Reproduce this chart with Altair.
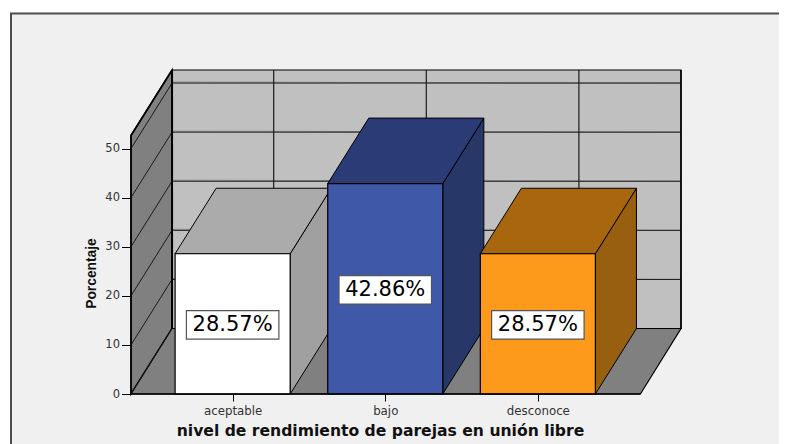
import altair as alt
import pandas as pd

# ---- values ----
categories = ["aceptable", "bajo", "desconoce"]
percentages = [28.57, 42.86, 28.57]
y_ticks = [0, 10, 20, 30, 40, 50]
front_colors = ["#ffffff", "#3f58a8", "#fd9a1c"]
top_colors = ["#ababab", "#2a3b75", "#a8670f"]
side_colors = ["#a0a0a0", "#273768", "#985f10"]
x_title = "nivel de rendimiento de parejas en unión libre"
y_title = "Porcentaje"

# ---- 3D box geometry in data units (category index / percent) ----
X_MIN, X_MAX = -0.666, 2.938
X_FRONT_END = 2.672
DX, DY = 0.269, 13.34
Y_MAX = 66.0
HALF = 0.377
LABEL_HALF_W, LABEL_HALF_H = 0.303, 2.9

xs = alt.Scale(domain=[X_MIN, X_MAX], nice=False, zero=False)
ys = alt.Scale(domain=[0, Y_MAX], nice=False, zero=False)
x_axis = alt.Axis(
    values=[0, 1, 2],
    labelExpr="['" + "','".join(categories) + "'][datum.value]",
    title=x_title, titleFont="DejaVu Sans", titleFontSize=15.6, titleFontWeight="bold",
    titleColor="#111111", titleX=249, titleY=36, titleBaseline="middle",
    titleAnchor="middle", titleAlign="center",
    labelFont="DejaVu Sans", labelFontSize=11.8, labelColor="#333333", labelPadding=4,
    labelOverlap=False, labelFlush=False,
    tickSize=7, tickColor="#000000", tickWidth=1, domain=False, grid=False, zindex=1)
y_axis = alt.Axis(
    values=y_ticks, title=y_title, titleFont="Liberation Sans", titleFontSize=13.8,
    titleFontWeight="bold", titleColor="#111111", titleX=-40, titleY=203,
    titleBaseline="middle", titleAnchor="middle", titleAlign="center",
    labelFont="DejaVu Sans", labelFontSize=11.5, labelColor="#333333", labelPadding=2,
    tickSize=9.5, tickColor="#000000", tickWidth=1, domain=False, grid=False, zindex=1)
X = alt.X("x:Q", scale=xs, axis=x_axis)
Y = alt.Y("y:Q", scale=ys, axis=y_axis)


def wall(x0, x1, b0, t0, b1, t1, color, sw=1.0):
    """Parallelogram with two vertical edges."""
    df = pd.DataFrame({"x": [x0, x1], "y": [t0, t1], "y2": [b0, b1]})
    return alt.Chart(df).mark_area(fill=color, stroke="#000000", strokeWidth=sw, opacity=1).encode(
        x=X, y=Y, y2="y2:Q")


def shelf(l0, r0, y0, l1, r1, y1, color, sw=1.0):
    """Parallelogram with two horizontal edges."""
    df = pd.DataFrame({"y": [y0, y1], "x": [l0, l1], "x2": [r0, r1]})
    return alt.Chart(df).mark_area(orient="horizontal", fill=color, stroke="#000000",
                                   strokeWidth=sw, opacity=1).encode(x=X, x2="x2:Q", y=Y)


def seg(rows, color="#1a1a1a", sw=1.0, **kw):
    df = pd.DataFrame(rows, columns=["x", "x2", "y", "y2"])
    return alt.Chart(df).mark_rule(color=color, strokeWidth=sw, **kw).encode(
        x=X, x2="x2:Q", y=Y, y2="y2:Q")


# page panel
frame = alt.Chart(pd.DataFrame({"a": [0]})).mark_rect(
    fill="#f0f0f0", stroke="#4d4d4d", strokeWidth=2
).encode(x=alt.value(-120), x2=alt.value(720), y=alt.value(-56.5), y2=alt.value(420))

layers = [frame]
# box shell
layers.append(wall(X_MIN, X_MIN + DX, 0, Y_MAX - DY, DY, Y_MAX, "#808080", 1.5))
back = pd.DataFrame({"x": [X_MIN + DX], "x2": [X_MAX], "y": [DY], "y2": [Y_MAX]})
layers.append(alt.Chart(back).mark_rect(fill="#c0c0c0", stroke="#000000", strokeWidth=1.2).encode(
    x=X, x2="x2:Q", y=Y, y2="y2:Q"))
layers.append(shelf(X_MIN, X_FRONT_END, 0, X_MIN + DX, X_MAX, DY, "#808080", 1.2))

# grid
layers.append(seg([[X_MIN + DX, X_MAX, v + DY, v + DY] for v in y_ticks if v > 0],
                  color="#8c8c8c", yOffset=-1))
layers.append(seg([[X_MIN + DX, X_MAX, v + DY, v + DY] for v in y_ticks if v > 0]))
layers.append(seg([[X_MIN, X_MIN + DX, v, v + DY] for v in y_ticks]))
layers.append(seg([[i + DX, i + DX, DY, Y_MAX] for i in range(len(categories))], sw=1.2))
layers.append(seg([[X_MIN + DX, X_MIN + DX, DY, Y_MAX]], color="#000000", sw=2))
layers.append(seg([[X_MIN, X_MIN, 0, Y_MAX - DY]], color="#000000", sw=1.5))
layers.append(seg([[X_MIN, X_MIN + DX, Y_MAX - DY, Y_MAX]], color="#000000", sw=1.5))
layers.append(seg([[X_MAX, X_MAX, DY, Y_MAX]], color="#000000", sw=1.5))

# bars
for i, v in enumerate(percentages):
    l, r = i - HALF, i + HALF
    layers.append(wall(r, r + DX, 0, v, DY, v + DY, side_colors[i]))
    layers.append(shelf(l, r, v, l + DX, r + DX, v + DY, top_colors[i]))
    front = pd.DataFrame({"x": [l], "x2": [r], "y": [0], "y2": [v]})
    layers.append(alt.Chart(front).mark_rect(fill=front_colors[i], stroke="#000000", strokeWidth=1.2).encode(
        x=X, x2="x2:Q", y=Y, y2="y2:Q"))

# floor front edge
layers.append(seg([[X_MIN, X_FRONT_END, 0, 0]], color="#000000", sw=1.5))

# value labels
lab = pd.DataFrame({
    "x": [i - LABEL_HALF_W for i in range(3)],
    "x2": [i + LABEL_HALF_W for i in range(3)],
    "y": [v / 2 - LABEL_HALF_H for v in percentages],
    "y2": [v / 2 + LABEL_HALF_H for v in percentages],
    "cx": list(range(3)),
    "cy": [v / 2 for v in percentages],
    "t": [f"{v:.2f}%" for v in percentages],
})
layers.append(alt.Chart(lab).mark_rect(fill="#ffffff", stroke="#555555", strokeWidth=1.2, yOffset=1, y2Offset=1).encode(
    x=X, x2="x2:Q", y=Y, y2="y2:Q"))
layers.append(alt.Chart(lab).mark_text(font="DejaVu Sans", fontSize=21, color="#000000",
                                       align="center", baseline="middle", dy=1).encode(
    x=alt.X("cx:Q", scale=xs, axis=x_axis), y=alt.Y("cy:Q", scale=ys, axis=y_axis), text="t:N"))

chart = alt.layer(*layers).properties(
    width=550, height=324,
    padding={"left": 123, "top": 62, "right": 98, "bottom": 50},
    autosize=alt.AutoSizeParams(type="none"),
    background="#ffffff",
).configure_view(stroke=None)

chart.save("out.html", embed_options={"renderer": "svg", "actions": False})
